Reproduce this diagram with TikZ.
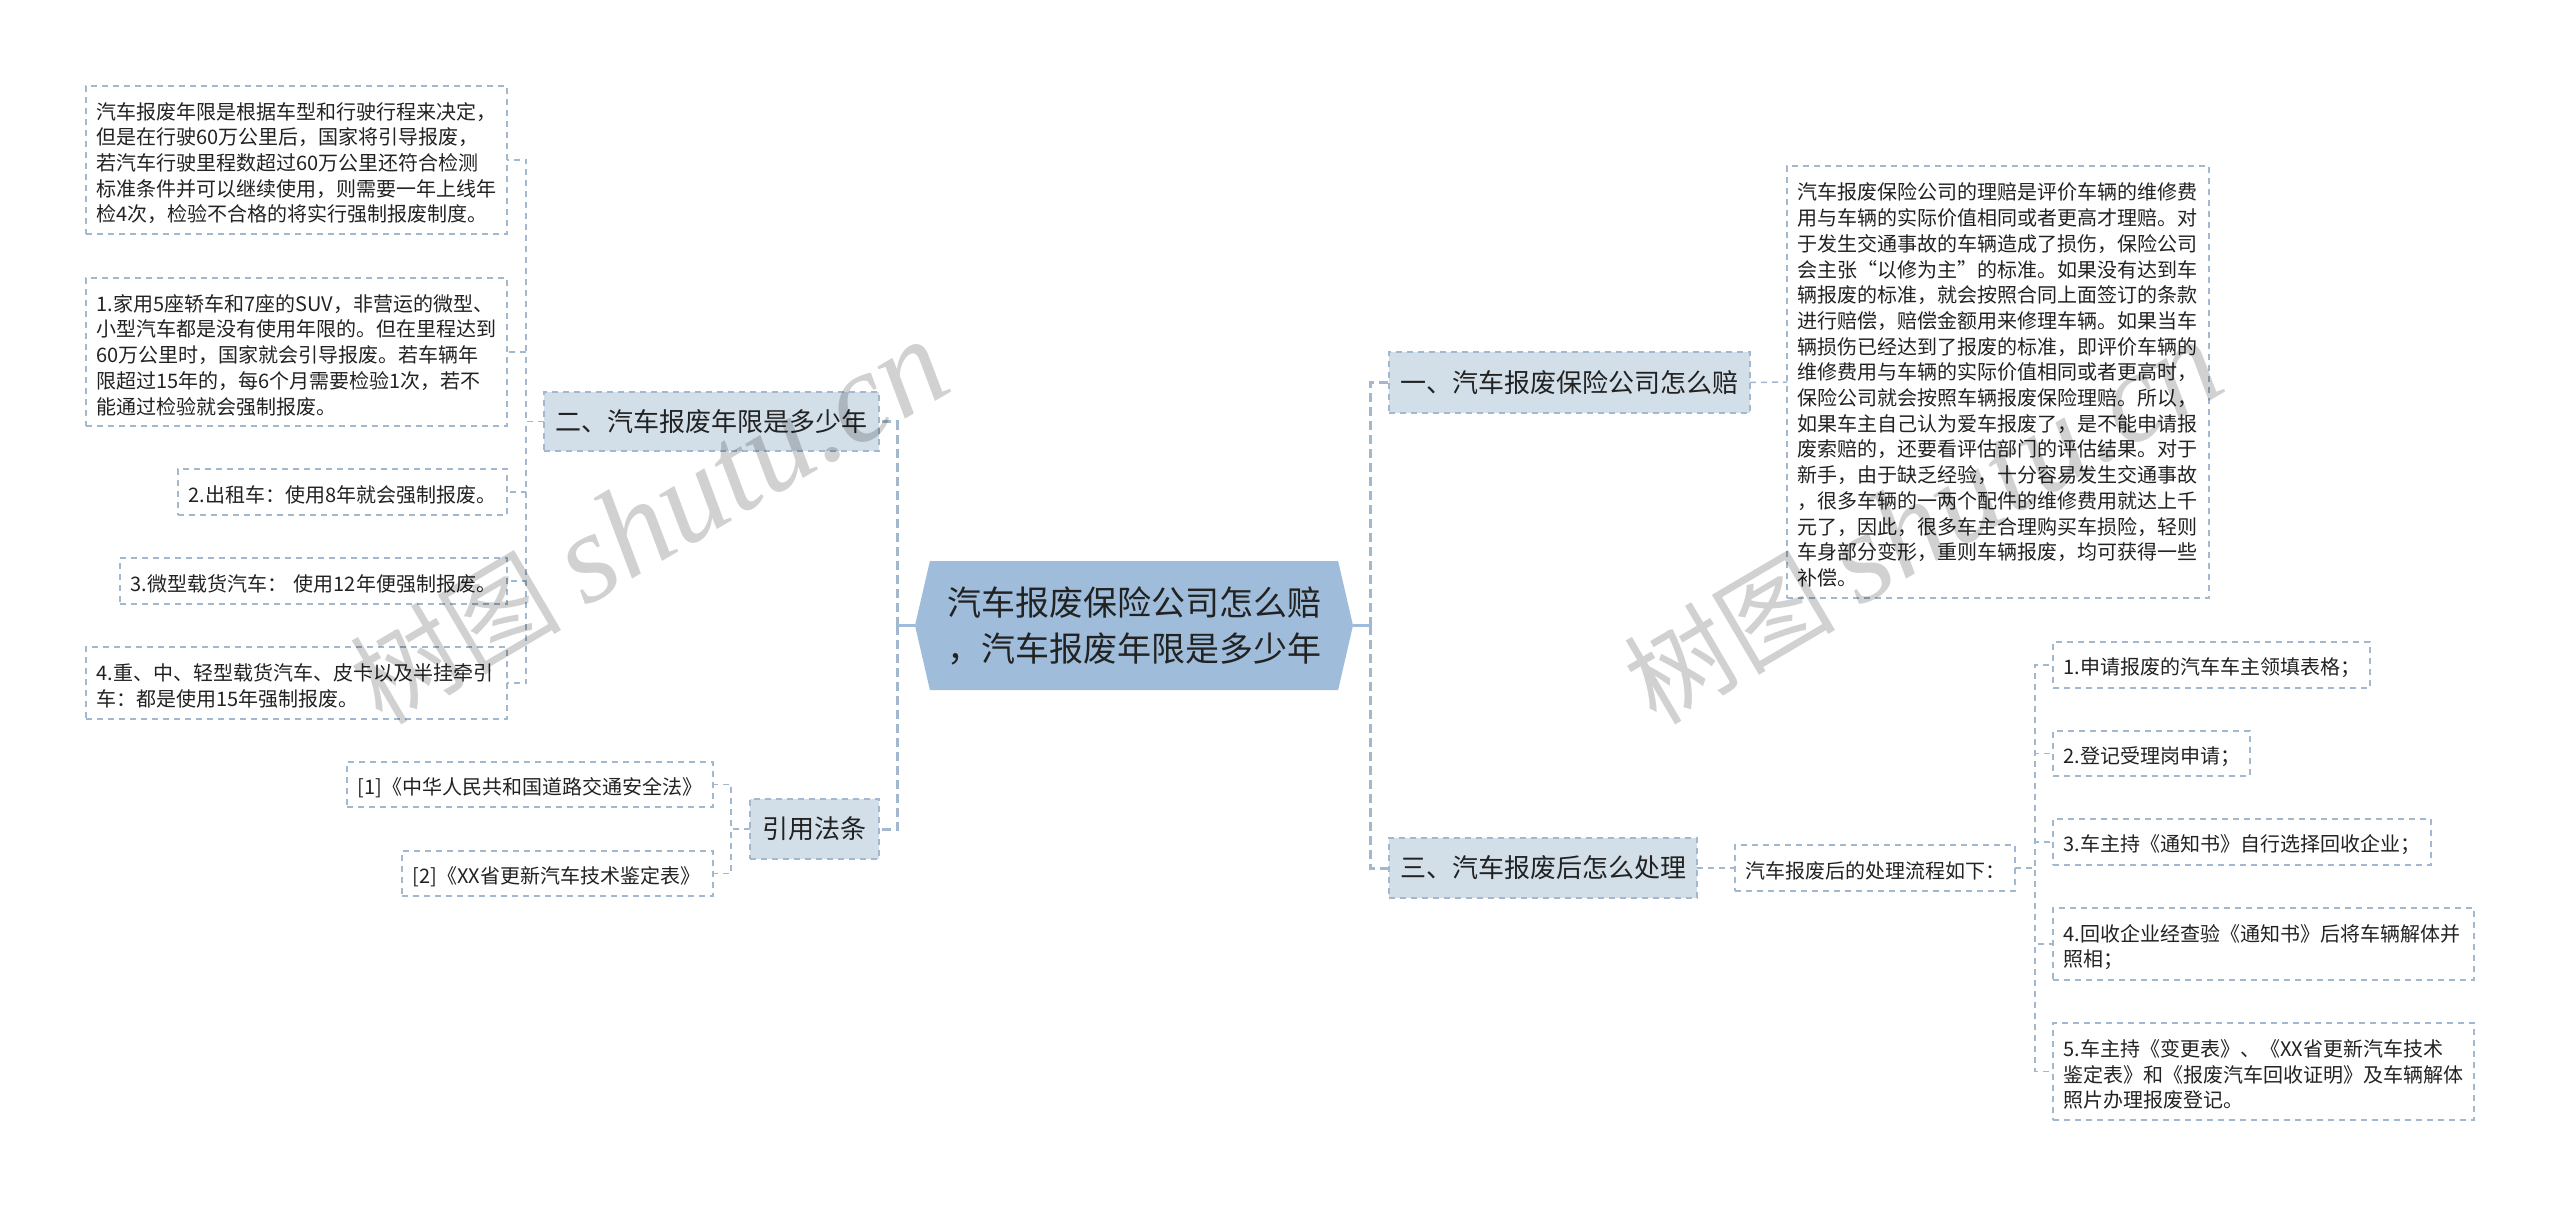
\documentclass[tikz,border=0pt]{standalone}
\usepackage{fontspec}
\usepackage{xcolor}
\usetikzlibrary{shapes.symbols}
\setmainfont{Noto Sans CJK SC}
\newfontfamily\markserif{Liberation Serif}
\definecolor{hubblue}{HTML}{9FBDDA}
\definecolor{branchblue}{HTML}{D2DFE9}
\definecolor{dashblue}{HTML}{A1B8CE}
\definecolor{inkdark}{HTML}{222222}

\begin{document}
\begin{tikzpicture}[x=1pt,y=-1pt]
\tikzset{every node/.style={outer sep=0pt,text=inkdark}}
\tikzset{leafbox/.style={draw=dashblue,line width=1.5pt,dash pattern=on 6pt off 5pt,inner xsep=10.5pt,inner ysep=0pt,align=left,font=\fontsize{20}{25.7}\selectfont,execute at begin node={\rule{0pt}{23pt}}}}
\tikzset{branchbox/.style={draw=dashblue,fill=branchblue,line width=2pt,dash pattern=on 6pt off 5pt,inner sep=0pt,font=\fontsize{26}{30}\selectfont}}
\tikzset{hubbox/.style={signal,signal to=east and west,signal pointer angle=154,fill=hubblue,inner sep=0pt,align=center,font=\fontsize{34}{46}\selectfont}}
\tikzset{linkline/.style={draw=dashblue,line width=1.5pt,dash pattern=on 6pt off 5pt}}
\tikzset{mainline/.style={draw=dashblue,line width=3pt,dash pattern=on 9pt off 5pt}}
\tikzset{stubline/.style={draw=hubblue,line width=3pt}}
\tikzset{markword/.style={text=black,opacity=.18,rotate=30.5,inner sep=0pt}}

\useasboundingbox (0,0) rectangle (2560,1206);

\node[hubbox,minimum width=438pt,minimum height=129pt] (hub) at (1134,625.5) {汽车报废保险公司怎么赔\\，汽车报废年限是多少年};

\node[branchbox,minimum width=335pt,minimum height=59pt] (erbox) at (711.5,421.5) {二、汽车报废年限是多少年};
\node[branchbox,minimum width=129pt,minimum height=60pt] (citehead) at (814.5,829) {引用法条};
\node[branchbox,minimum width=361pt,minimum height=61pt] (yibox) at (1569.5,382.5) {一、汽车报废保险公司怎么赔};
\node[branchbox,minimum width=308pt,minimum height=60pt] (sanbox) at (1543,868) {三、汽车报废后怎么处理};

\node[leafbox,text width=400pt,minimum height=148pt] (lone) at (296.5,160) {汽车报废年限是根据车型和行驶行程来决定，\\但是在行驶60万公里后，国家将引导报废，\\若汽车行驶里程数超过60万公里还符合检测\\标准条件并可以继续使用，则需要一年上线年\\检4次，检验不合格的将实行强制报废制度。};
\node[leafbox,text width=400pt,minimum height=148pt] (ltwo) at (296.5,352) {1.家用5座轿车和7座的SUV，非营运的微型、\\小型汽车都是没有使用年限的。但在里程达到\\60万公里时，国家就会引导报废。若车辆年\\限超过15年的，每6个月需要检验1次，若不\\能通过检验就会强制报废。};
\node[leafbox,text width=308pt,minimum height=46pt] (lthree) at (342.5,492) {2.出租车：使用8年就会强制报废。};
\node[leafbox,text width=366pt,minimum height=46pt] (lfour) at (313.5,581) {3.微型载货汽车： 使用12年便强制报废。};
\node[leafbox,text width=400pt,minimum height=72pt] (lfive) at (296.5,683) {4.重、中、轻型载货汽车、皮卡以及半挂牵引\\车：都是使用15年强制报废。};

\node[leafbox,text width=345pt,minimum height=45pt] (citeone) at (530,784.5) {[1]《中华人民共和国道路交通安全法》};
\node[leafbox,text width=290pt,minimum height=45pt] (citetwo) at (557.5,873.5) {[2]《XX省更新汽车技术鉴定表》};

\node[leafbox,text width=401pt,minimum height=432pt] (claimtext) at (1998,382) {汽车报废保险公司的理赔是评价车辆的维修费\\用与车辆的实际价值相同或者更高才理赔。对\\于发生交通事故的车辆造成了损伤，保险公司\\会主张“以修为主”的标准。如果没有达到车\\辆报废的标准，就会按照合同上面签订的条款\\进行赔偿，赔偿金额用来修理车辆。如果当车\\辆损伤已经达到了报废的标准，即评价车辆的\\维修费用与车辆的实际价值相同或者更高时，\\保险公司就会按照车辆报废保险理赔。所以，\\如果车主自己认为爱车报废了，是不能申请报\\废索赔的，还要看评估部门的评估结果。对于\\新手，由于缺乏经验，十分容易发生交通事故\\，很多车辆的一两个配件的维修费用就达上千\\元了，因此，很多车主合理购买车损险，轻则\\车身部分变形，重则车辆报废，均可获得一些\\补偿。};

\node[leafbox,text width=259pt,minimum height=46pt] (flowhead) at (1875,868) {汽车报废后的处理流程如下：};
\node[leafbox,text width=296pt,minimum height=46pt] (aone) at (2211.5,665) {1.申请报废的汽车车主领填表格；};
\node[leafbox,text width=176pt,minimum height=45pt] (atwo) at (2151.5,753.5) {2.登记受理岗申请；};
\node[leafbox,text width=357pt,minimum height=46pt] (athree) at (2242,842) {3.车主持《通知书》自行选择回收企业；};
\node[leafbox,text width=400pt,minimum height=72pt] (afour) at (2263.5,944) {4.回收企业经查验《通知书》后将车辆解体并\\照相；};
\node[leafbox,text width=400pt,minimum height=97pt] (afive) at (2263.5,1071.5) {5.车主持《变更表》、《XX省更新汽车技术\\鉴定表》和《报废汽车回收证明》及车辆解体\\照片办理报废登记。};

\coordinate (hubleft) at (897,625.5);
\coordinate (hubright) at (1370,625.5);
\coordinate (erjoint) at (526,421.5);
\coordinate (citejoint) at (731,829);
\coordinate (flowjoint) at (2035,868);

\draw[stubline] (hub.west) -- (hubleft);
\draw[stubline] (hub.east) -- (hubright);
\foreach \kid in {erbox,citehead} \draw[mainline] (hubleft) |- (\kid.east);
\foreach \kid in {yibox,sanbox} \draw[mainline] (hubright) |- (\kid.west);

\foreach \kid in {lone,ltwo,lthree,lfour,lfive} \draw[linkline] (erbox.west) -- (erjoint) |- (\kid.east);
\foreach \kid in {citeone,citetwo} \draw[linkline] (citehead.west) -- (citejoint) |- (\kid.east);
\draw[linkline] (yibox.east) -- (claimtext.west);
\draw[linkline] (sanbox.east) -- (flowhead.west);
\foreach \kid in {aone,atwo,athree,afour,afive} \draw[linkline] (flowhead.east) -- (flowjoint) |- (\kid.west);

\node[markword,anchor=west] (markleft) at (362,692) {\fontsize{106}{106}\selectfont 树图 \markserif\itshape\fontsize{128}{128}\selectfont shutu.cn};
\node[markword,anchor=west] (markright) at (1636,692) {\fontsize{106}{106}\selectfont 树图 \markserif\itshape\fontsize{128}{128}\selectfont shutu.cn};

\end{tikzpicture}
\end{document}
